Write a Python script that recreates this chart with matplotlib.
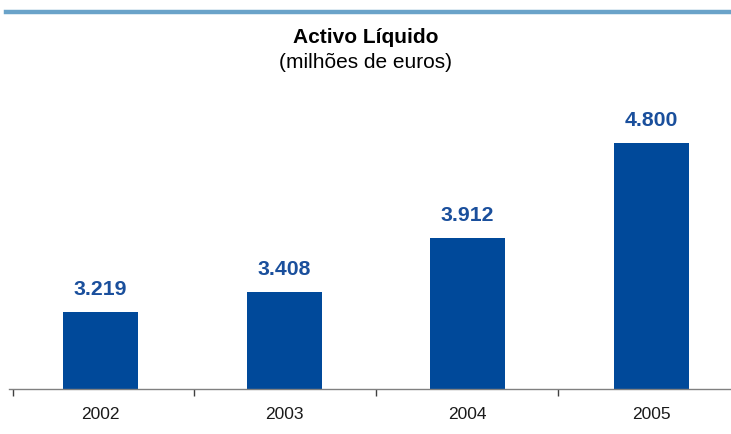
import matplotlib
matplotlib.use("Agg")
import matplotlib.pyplot as plt
from matplotlib.lines import Line2D

categories = ["2002", "2003", "2004", "2005"]
values = [3219, 3408, 3912, 4800]
value_labels = ["3.219", "3.408", "3.912", "4.800"]

plt.rcParams['font.family'] = ['Liberation Sans', 'DejaVu Sans']

W, H = 731, 434
fig = plt.figure(figsize=(W/100, H/100), dpi=100)

# top decorative line
fig.add_artist(Line2D([6/W, 1.0], [1-12/H, 1-12/H], color='#6AA3C9', lw=3.2,
                      transform=fig.transFigure))

fig.text(0.5, 1-37.5/H, "Activo Líquido", ha='center', va='center',
         fontsize=15, fontweight='bold', color='black')
fig.text(0.5, 1-63/H, "(milhões de euros)", ha='center', va='center',
         fontsize=15, color='black')

left_px, right_px = 9, 743
bottom_px = 389
ymin, ymax = 2500, 5200
scale = (312 - 143) / (4800 - 3219)
height_px = (ymax - ymin) * scale
ax = fig.add_axes([left_px/W, (H-bottom_px)/H, (right_px-left_px)/W, height_px/H])

x = list(range(len(categories)))
bars = ax.bar(x, values, width=0.41, color='#00499A')
ax.set_xlim(-0.5, len(categories) - 0.5)
ax.set_ylim(ymin, ymax)

for xi, v, lab in zip(x, values, value_labels):
    ax.annotate(lab, (xi, v), xytext=(0, 9.5), textcoords='offset points',
                ha='center', va='bottom', fontsize=15.3, fontweight='bold',
                color='#1A4F9C')

for s in ['top', 'right', 'left']:
    ax.spines[s].set_visible(False)
ax.spines['bottom'].set_color('#808080')
ax.spines['bottom'].set_linewidth(1.0)
ax.set_yticks([])

ax.set_xticks([-0.48, 0.51, 1.5, 2.49, 3.49])
ax.set_xticklabels([])
ax.set_xticks(x, minor=True)
ax.set_xticklabels(categories, minor=True)
ax.tick_params(axis='x', which='major', direction='out', length=5, width=1, color='#404040')
ax.tick_params(axis='x', which='minor', length=0, pad=13, labelsize=12.5, labelcolor='#1a1a1a')

fig.savefig("out.png", dpi=100)
